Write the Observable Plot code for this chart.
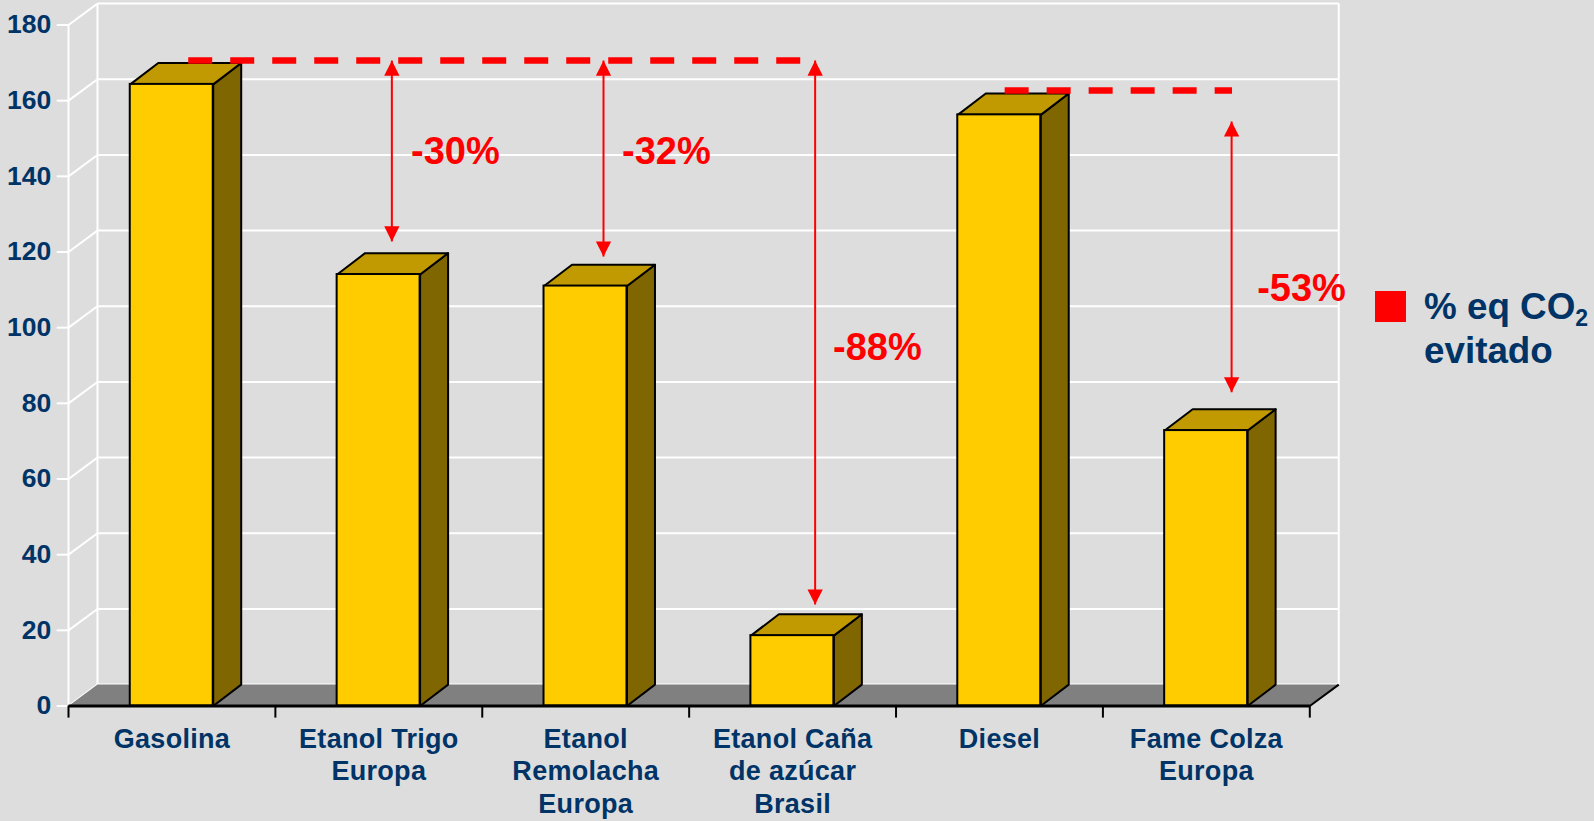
<!DOCTYPE html>
<html><head><meta charset="utf-8">
<script src="https://cdn.jsdelivr.net/npm/d3@7"></script>
<script src="https://cdn.jsdelivr.net/npm/@observablehq/plot@0.6"></script>
<style>
html,body{margin:0;padding:0;background:#dddddd;width:1594px;height:821px;overflow:hidden}
#wrap{position:relative;width:1594px;height:821px;font-family:"Liberation Sans",Arial,sans-serif}
#swatch{position:absolute;left:1375px;top:291px;width:31px;height:31px;background:#ff0000}
#legend{position:absolute;left:1424px;top:285px;font:bold 36.8px/43.5px "Liberation Sans",Arial,sans-serif;color:#003366;white-space:nowrap}
#legend sub{font-size:23px;line-height:0;vertical-align:-7px}
svg{display:block}
</style></head><body>
<div id="wrap"><div id="swatch"></div><div id="legend">% eq CO<sub>2</sub><br>evitado</div></div>
<script>
const categories = ["Gasolina","Etanol Trigo\nEuropa","Etanol\nRemolacha\nEuropa","Etanol Caña\nde azúcar\nBrasil","Diesel","Fame Colza\nEuropa"];
const values = [164.3, 114.05, 111, 18.6, 156.25, 72.8];
const yTicks = [0,20,40,60,80,100,120,140,160,180];
const refLines = [{x1:0.5787,x2:3.55,y:170.6},{x1:4.525,x2:5.624,y:162.7}];
const arrows = [
  {x:1.563,top:170.6,bottom:122.8},
  {x:2.586,top:170.6,bottom:118.8},
  {x:3.609,top:170.6,bottom:26.8},
  {x:5.622,top:154.5,bottom:82.9}
];
const pctLabels = ["-30%","-32%","-88%","-53%"];
const pctX = [1.87,2.89,3.91,5.96];
const pctY = [146.6,146.6,94.6,110.3];

const depthX = 0.1353, depthY = 5.65, barLeft = 0.2985, barRight = 0.6995;
const headW = 0.037, headH = 4;
const xMax = categories.length, yMax = 180;
const wallX = 0.14;

const bars = values.map((v,i)=>({v,x1:i+barLeft,x2:i+barRight}));
const poly = (pts,id)=>pts.map(([x,y])=>({x,y,id}));
const sides = bars.flatMap((b,i)=>poly([[b.x2,0],[b.x2+depthX,depthY],[b.x2+depthX,b.v+depthY],[b.x2,b.v],[b.x2,0]],i));
const tops = bars.flatMap((b,i)=>poly([[b.x1,b.v],[b.x2,b.v],[b.x2+depthX,b.v+depthY],[b.x1+depthX,b.v+depthY],[b.x1,b.v]],i));
const floor = poly([[0,0],[xMax,0],[xMax+wallX,depthY],[wallX,depthY]],"f");
const heads = arrows.flatMap((a,i)=>[
  ...poly([[a.x,a.top],[a.x-headW,a.top-headH],[a.x+headW,a.top-headH]],"t"+i),
  ...poly([[a.x,a.bottom],[a.x-headW,a.bottom+headH],[a.x+headW,a.bottom+headH]],"b"+i)
]);
const ticksX = d3.range(xMax+1);
const catData = categories.map((c,i)=>({c,x:i+0.5}));
const pctData = pctLabels.map((t,i)=>({t,x:pctX[i],y:pctY[i]}));

const chart = Plot.plot({
  width:1594,height:821,
  marginLeft:68,marginRight:284.7,marginTop:24.5,marginBottom:115.5,
  style:{background:"transparent",fontFamily:"'Liberation Sans',Arial,sans-serif"},
  x:{type:"linear",domain:[0,xMax],axis:null},
  y:{type:"linear",domain:[0,yMax]},
  marks:[
    // walls
    Plot.link(yTicks,{x1:wallX,x2:xMax+wallX,y1:d=>d+depthY,y2:d=>d+depthY,stroke:"white",strokeWidth:2}),
    Plot.link(yTicks,{x1:0,x2:wallX,y1:d=>d,y2:d=>d+depthY,stroke:"white",strokeWidth:2}),
    Plot.link([0,wallX],{x1:d=>d,x2:d=>d,y1:d=>d?depthY:0,y2:d=>d?yMax+depthY:yMax,stroke:"white",strokeWidth:2}),
    Plot.link([xMax+wallX],{x1:d=>d,x2:d=>d,y1:depthY,y2:yMax+depthY,stroke:"white",strokeWidth:2}),
    // floor
    Plot.line(floor,{x:"x",y:"y",z:"id",fill:"#808080",stroke:"none"}),
    Plot.link([0],{x1:xMax,x2:xMax+wallX,y1:0,y2:depthY,stroke:"black",strokeWidth:2}),
    // y axis
    Plot.axisY({ticks:yTicks,tickSize:11.3,tickPadding:6,stroke:"white",strokeWidth:2,fill:"#003366",fontSize:26.5,fontWeight:"bold",label:null,tickFormat:d=>String(d)}),
    // bars
    Plot.line(sides,{x:"x",y:"y",z:"id",fill:"#806600",stroke:"black",strokeWidth:2,strokeLinejoin:"round"}),
    Plot.line(tops,{x:"x",y:"y",z:"id",fill:"#c09a00",stroke:"black",strokeWidth:2,strokeLinejoin:"round"}),
    Plot.rect(bars,{x1:"x1",x2:"x2",y1:0,y2:"v",fill:"#ffcc00",stroke:"black",strokeWidth:2}),
    // x axis
    Plot.ruleX(ticksX,{x:d=>d,y1:0,y2:-3.2,stroke:"black",strokeWidth:2}),
    Plot.link([0],{x1:0,x2:xMax,y1:0,y2:0,stroke:"black",strokeWidth:3}),
    Plot.text(catData,{x:"x",y:0,text:"c",dy:19,lineAnchor:"top",lineHeight:1.2,fontSize:27,fontWeight:"bold",fill:"#003366"}),
    // annotations
    Plot.link(refLines,{x1:"x1",x2:"x2",y1:"y",y2:"y",stroke:"#ff0000",strokeWidth:6.5,strokeDasharray:"24 18"}),
    Plot.link(arrows,{x1:"x",x2:"x",y1:"top",y2:"bottom",stroke:"#ff0000",strokeWidth:2}),
    Plot.line(heads,{x:"x",y:"y",z:"id",fill:"#ff0000",stroke:"none"}),
    Plot.text(pctData,{x:"x",y:"y",text:"t",fontSize:38,fontWeight:"bold",fill:"#ff0000"})
  ]
});
const catText = chart.querySelectorAll('g[aria-label="text"]')[0];
catText.style.letterSpacing = "0.3px";
document.getElementById("wrap").prepend(chart);
</script>
</body></html>
